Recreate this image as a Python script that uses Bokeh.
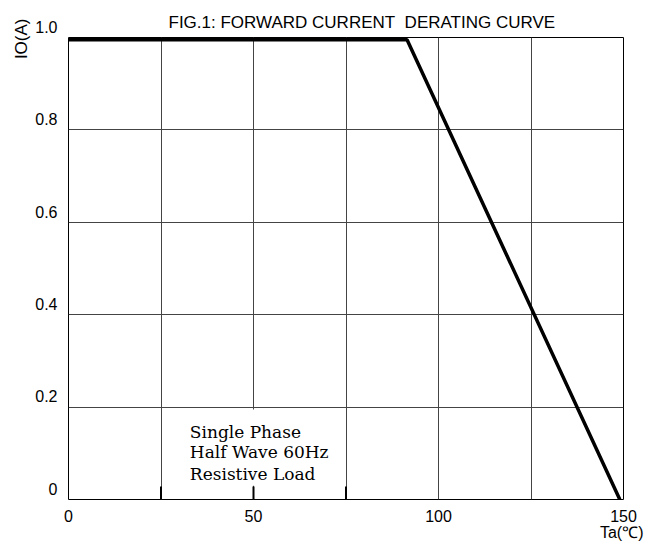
from bokeh.plotting import figure
from bokeh.models import Range1d, FixedTicker, Label, Title
from bokeh.embed import file_html
from bokeh.resources import INLINE

# Data
ta = [0, 91.5, 149]
io = [0.995, 0.995, 0.0]
x_ticks = [0, 50, 100, 150]
y_ticks = [0, 0.2, 0.4, 0.6, 0.8, 1.0]
y_tick_labels = ["0", "0.2", "0.4", "0.6", "0.8", "1.0"]
notes = ["Single Phase", "Half Wave 60Hz", "Resistive Load"]

p = figure(width=649, height=544, output_backend="svg", toolbar_location=None,
           x_range=Range1d(0, 150), y_range=Range1d(0, 1.0),
           min_border_left=68, min_border_top=37, min_border_right=26, min_border_bottom=45)

p.title.text = "FIG.1: FORWARD CURRENT\u00a0 DERATING CURVE"
p.title.align = "left"
p.title.offset = 100
p.title.text_font = "Liberation Sans"
p.title.text_font_size = "17px"
p.title.text_font_style = "normal"
p.title.text_color = "black"
p.title.standoff = 11

p.add_layout(Title(text="IO(A)", align="right", text_font="Liberation Sans",
                   text_font_size="17px", text_font_style="normal", text_color="black",
                   offset=-19, standoff=4), "left")
p.add_layout(Title(text="Ta(℃)", align="right", text_font="Liberation Sans",
                   text_font_size="16px", text_font_style="normal", text_color="black",
                   offset=-20, standoff=-6), "below")

p.outline_line_color = "black"
p.background_fill_color = "white"
p.border_fill_color = "white"

p.xaxis.ticker = FixedTicker(ticks=x_ticks)
p.yaxis.ticker = FixedTicker(ticks=y_ticks)
# labels sit just above their grid line: a blank second line lifts them
p.yaxis.major_label_overrides = {v: t + "\n " for v, t in zip(y_ticks, y_tick_labels)}
for ax in (p.xaxis[0], p.yaxis[0]):
    ax.axis_line_color = None
    ax.major_tick_line_color = None
    ax.minor_tick_line_color = None
    ax.major_label_text_font = "Liberation Sans"
    ax.major_label_text_font_size = "16px"
    ax.major_label_text_color = "black"
p.xaxis.major_label_standoff = 4
p.yaxis.major_label_standoff = 5

p.xgrid.ticker = FixedTicker(ticks=[25, 50, 75, 100, 125])
p.ygrid.ticker = FixedTicker(ticks=[0.2, 0.4, 0.6, 0.8])
p.xgrid.grid_line_color = "#444444"
p.ygrid.grid_line_color = "#444444"
p.xgrid.grid_line_width = 1
p.ygrid.grid_line_width = 1

# white box behind note text
p.quad(left=[26], right=[74], bottom=[0.03], top=[0.195], fill_color="white", line_color=None)
# short marks at bottom
p.segment(x0=[25, 50, 75], y0=[0, 0, 0], x1=[25, 50, 75], y1=[0.028, 0.028, 0.028],
          line_color="black", line_width=2)

p.line(ta, io, line_color="black", line_width=3.5)

note_y = [0.147, 0.102, 0.056]
for t, yy in zip(notes, note_y):
    p.add_layout(Label(x=32.8, y=yy, text=t, text_font="DejaVu Serif", text_font_size="17px",
                       text_baseline="middle", text_align="left", text_color="black"))

open("out.html", "w").write(file_html(p, INLINE))
